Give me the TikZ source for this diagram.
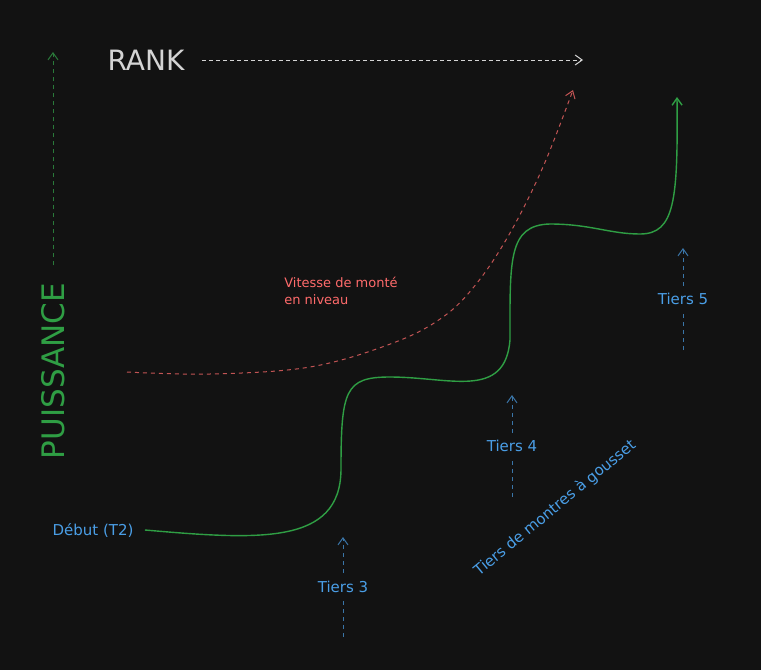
\documentclass[tikz,border=0pt]{standalone}
\usepackage{fontspec}
\setmainfont{DejaVu Sans}
\usetikzlibrary{arrows.meta}
\definecolor{fondnoir}{HTML}{121212}
\definecolor{vertcourbe}{HTML}{2F9E44}
\definecolor{vertaxe}{HTML}{2A7A3A}
\definecolor{grisrank}{HTML}{D4D4D4}
\definecolor{rougemontee}{HTML}{C25454}
\definecolor{rougetexte}{HTML}{FF6B6B}
\definecolor{bleutexte}{HTML}{4A9EE6}
\definecolor{bleufleche}{HTML}{3A75A8}

\begin{document}
\begin{tikzpicture}[
    x=1pt, y=-1pt,
    >={Straight Barb[length=7pt,width=10pt]},
    tiers/.style={
        text=bleutexte,
        fill=fondnoir,
        inner sep=6pt,
        font=\fontsize{15}{18}\selectfont
    },
    tiersfleche/.style={
        ->,
        draw=bleufleche,
        line width=1pt,
        dash pattern=on 4pt off 4pt
    },
    courbe/.style={
        ->,
        draw=vertcourbe,
        line width=1.4pt
    },
    montee/.style={
        ->,
        draw=rougemontee,
        line width=1pt,
        dash pattern=on 4pt off 4pt
    }
]

% =====================
% FOND
% =====================
\fill[fondnoir] (0,0) rectangle (761,670);
\useasboundingbox (0,0) rectangle (761,670);

% =====================
% AXES
% =====================
\node[text=vertcourbe, rotate=90, font=\fontsize{31}{36}\selectfont] at (53,371) (puissance) {PUISSANCE};
\coordinate (ptip) at (53,52);
\draw[->, draw=vertaxe, line width=1pt, dash pattern=on 4pt off 4pt, shorten <=14pt] (puissance.east) -- (ptip);

\node[text=grisrank, font=\fontsize{28}{32}\selectfont] at (146,60) (rank) {RANK};
\coordinate (rtip) at (583,60);
\draw[->, draw=grisrank, line width=1pt, dash pattern=on 4pt off 3pt, shorten <=14pt] (rank.east) -- (rtip);

% =====================
% VITESSE DE MONTEE
% =====================
\draw[montee] plot[smooth, tension=0.6] coordinates {(127,372) (210,374) (310,367) (393,343)
    (443,317) (477,283) (510,233) (543,167) (573,90)};

\node[text=rougetexte, align=left, font=\fontsize{13}{17}\selectfont] at (341,291) (vitesse) {Vitesse de monté\\en niveau};

% =====================
% PUISSANCE PAR TIERS
% =====================
\node[text=bleutexte, font=\fontsize{15}{18}\selectfont] at (93,530) (debut) {Début (T2)};
\coordinate (fin) at (677,97);
\draw[courbe] ([xshift=8pt]debut.east) .. controls (260,540) and (340,545) .. (341,470)
    .. controls (341,390) and (345,377) .. (390,377)
    .. controls (450,377) and (505,400) .. (510,340)
    .. controls (510,260) and (508,225) .. (550,224)
    .. controls (590,224) and (610,234) .. (640,234)
    .. controls (675,234) and (678,200) .. (fin);

% Tiers 3
\coordinate (t3bas) at (343,637);
\coordinate (t3haut) at (343,537);
\draw[tiersfleche] (t3bas) -- node[tiers] (t3) {Tiers 3} (t3haut);

% Tiers 4
\coordinate (t4bas) at (512,497);
\coordinate (t4haut) at (512,395);
\draw[tiersfleche] (t4bas) -- node[tiers] (t4) {Tiers 4} (t4haut);

% Tiers 5
\coordinate (t5bas) at (683,350);
\coordinate (t5haut) at (683,248);
\draw[tiersfleche] (t5bas) -- node[tiers] (t5) {Tiers 5} (t5haut);

\node[tiers, rotate=39.5] at (555,508) (gousset) {Tiers de montres à gousset};

\end{tikzpicture}
\end{document}
